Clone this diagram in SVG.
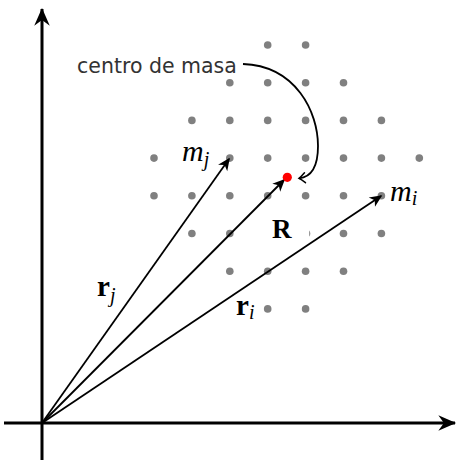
<svg xmlns="http://www.w3.org/2000/svg" width="457" height="460" viewBox="0 0 457 460">
<style>
.dot{fill:#808080}
.ax{stroke:#000;stroke-width:3;fill:none}
.vec{stroke:#000;stroke-width:1.8;fill:none}
.math{font-family:"Liberation Serif","Times New Roman",serif;fill:#000}
.it{font-style:italic}
.bf{font-weight:bold}
.lbl{font-family:"DejaVu Sans","Liberation Sans",sans-serif;fill:#333;font-size:20.5px}
</style>
<defs>
<marker id="axhead" markerUnits="userSpaceOnUse" markerWidth="20" markerHeight="20" viewBox="-16 -8 18 16" refX="0" refY="0" orient="auto" overflow="visible">
<path d="M1,0 L-15,-7 L-10,0 L-15,7 Z" fill="#000"/>
</marker>
<marker id="vhead" markerUnits="userSpaceOnUse" markerWidth="16" markerHeight="14" viewBox="-14 -7 16 14" refX="0" refY="0" orient="auto" overflow="visible">
<path d="M1.5,0 L-11,-5.6 L-7.5,0 L-11,5.6 Z" fill="#000"/>
</marker>
<marker id="ohead" markerUnits="userSpaceOnUse" markerWidth="12" markerHeight="12" viewBox="-8 -6 10 12" refX="0" refY="0" orient="auto" overflow="visible">
<path d="M-6,-5 Q-2,-1.2 0,0 Q-2,1.2 -6,5" fill="none" stroke="#000" stroke-width="1.5" stroke-linecap="round"/>
</marker>
</defs>
<rect width="457" height="460" fill="#fff"/>
<g id="masses">
<circle class="dot" cx="267.7" cy="45" r="3.8"/><circle class="dot" cx="305.6" cy="45" r="3.8"/>
<circle class="dot" cx="229.8" cy="82.7" r="3.8"/><circle class="dot" cx="267.7" cy="82.7" r="3.8"/><circle class="dot" cx="305.6" cy="82.7" r="3.8"/><circle class="dot" cx="343.5" cy="82.7" r="3.8"/>
<circle class="dot" cx="191.9" cy="120.4" r="3.8"/><circle class="dot" cx="229.8" cy="120.4" r="3.8"/><circle class="dot" cx="267.7" cy="120.4" r="3.8"/><circle class="dot" cx="305.6" cy="120.4" r="3.8"/><circle class="dot" cx="343.5" cy="120.4" r="3.8"/><circle class="dot" cx="381.4" cy="120.4" r="3.8"/>
<circle class="dot" cx="154" cy="158.1" r="3.8"/><circle class="dot" cx="229.8" cy="158.1" r="3.8"/><circle class="dot" cx="267.7" cy="158.1" r="3.8"/><circle class="dot" cx="305.6" cy="158.1" r="3.8"/><circle class="dot" cx="343.5" cy="158.1" r="3.8"/><circle class="dot" cx="381.4" cy="158.1" r="3.8"/><circle class="dot" cx="419.3" cy="158.1" r="3.8"/>
<circle class="dot" cx="154" cy="195.8" r="3.8"/><circle class="dot" cx="191.9" cy="195.8" r="3.8"/><circle class="dot" cx="229.8" cy="195.8" r="3.8"/><circle class="dot" cx="267.7" cy="195.8" r="3.8"/><circle class="dot" cx="305.6" cy="195.8" r="3.8"/><circle class="dot" cx="343.5" cy="195.8" r="3.8"/><circle class="dot" cx="381.4" cy="195.8" r="3.8"/>
<circle class="dot" cx="191.9" cy="233.5" r="3.8"/><circle class="dot" cx="229.8" cy="233.5" r="3.8"/><circle class="dot" cx="306.5" cy="233.5" r="3.8"/><circle class="dot" cx="343.5" cy="233.5" r="3.8"/><circle class="dot" cx="381.4" cy="233.5" r="3.8"/>
<circle class="dot" cx="229.8" cy="271.2" r="3.8"/><circle class="dot" cx="267.7" cy="271.2" r="3.8"/><circle class="dot" cx="305.6" cy="271.2" r="3.8"/><circle class="dot" cx="343.5" cy="271.2" r="3.8"/>
<circle class="dot" cx="267.7" cy="308.9" r="3.8"/><circle class="dot" cx="305.6" cy="308.9" r="3.8"/>
</g>
<g id="label-R">
<rect x="262" y="214" width="47.2" height="30" fill="#fff"/>
<text class="math bf" x="272" y="237.5" font-size="27">R</text>
</g>
<g id="axes">
<line class="ax" x1="42" y1="460" x2="42" y2="9" marker-end="url(#axhead)"/>
<line class="ax" x1="4" y1="423" x2="455" y2="423" marker-end="url(#axhead)"/>
</g>
<g id="connectors">
<line class="vec" x1="42" y1="423" x2="229" y2="159" marker-end="url(#vhead)"/>
<line class="vec" x1="42" y1="423" x2="284" y2="180" marker-end="url(#vhead)"/>
<line class="vec" x1="42" y1="423" x2="381" y2="196" marker-end="url(#vhead)"/>
<path class="vec" d="M243,64 C296,66 318,112 318,146 C318,166 312,177 299,178.3" marker-end="url(#ohead)"/>
</g>
<g id="center-of-mass">
<circle cx="287.3" cy="177.3" r="4.6" fill="#f00"/>
</g>
<g id="label-centro">
<text class="lbl" x="77" y="73">centro de masa</text>
</g>
<g id="label-mj">
<text class="math it" x="182" y="161" font-size="30">m<tspan font-size="20" dy="5">j</tspan></text>
</g>
<g id="label-mi">
<text class="math it" x="390" y="201" font-size="30">m<tspan font-size="20" dy="4">i</tspan></text>
</g>
<g id="label-rj">
<text class="math bf" x="97" y="296" font-size="29">r<tspan class="it" font-weight="normal" font-size="20" dy="6">j</tspan></text>
</g>
<g id="label-ri">
<text class="math bf" x="236" y="315" font-size="29">r<tspan class="it" font-weight="normal" font-size="20" dy="4">i</tspan></text>
</g>
</svg>
